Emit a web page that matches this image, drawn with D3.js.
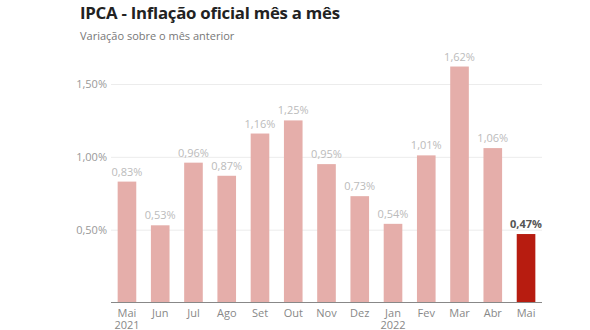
<!DOCTYPE html>
<html><head><meta charset="utf-8">
<script src="https://cdn.jsdelivr.net/npm/d3@7"></script>
<style>body{margin:0;background:#fff;}svg{display:block;font-family:"Open Sans",sans-serif;}</style>
</head><body><svg id="c" width="590" height="330"></svg>
<script>
const months = ["Mai","Jun","Jul","Ago","Set","Out","Nov","Dez","Jan","Fev","Mar","Abr","Mai"];
const years = ["2021","","","","","","","","2022","","","",""];
const values = [0.83,0.53,0.96,0.87,1.16,1.25,0.95,0.73,0.54,1.01,1.62,1.06,0.47];
const labels = ["0,83%","0,53%","0,96%","0,87%","1,16%","1,25%","0,95%","0,73%","0,54%","1,01%","1,62%","1,06%","0,47%"];
const yTicks = [0.5,1.0,1.5];
const yTickLabels = ["0,50%","1,00%","1,50%"];

const svg = d3.select("#c");
const x0 = 111, x1 = 542, yBase = 302.5, yTop = 84;
const x = d3.scaleBand().domain(d3.range(values.length)).range([x0,x1]).paddingInner(0.44).paddingOuter(0.2);
const y = d3.scaleLinear().domain([0,1.5]).range([yBase,yTop]);

svg.append("text").attr("x",80).attr("y",19).attr("font-size",16.8).attr("font-weight",700).attr("fill","#222")
  .attr("letter-spacing","-0.25").text("IPCA - Inflação oficial mês a mês");
svg.append("text").attr("x",80).attr("y",40).attr("font-size",11).attr("fill","#777")
  .text("Variação sobre o mês anterior");

const yAxis = d3.axisLeft(y).tickValues(yTicks).tickSize(-(x1-x0)).tickFormat((d,i)=>yTickLabels[i]);
const gy = svg.append("g").attr("transform",`translate(${x0},0)`).call(yAxis);
gy.select(".domain").remove();
gy.selectAll(".tick line").attr("stroke","#ececec");
gy.selectAll(".tick text").attr("x",-4).attr("font-size",11).attr("fill","#999").attr("font-family","Open Sans");

svg.append("g").selectAll("rect").data(values).join("rect")
  .attr("x",(d,i)=>x(i)).attr("width",x.bandwidth())
  .attr("y",d=>y(d)).attr("height",d=>yBase-y(d))
  .attr("fill",(d,i)=>i===values.length-1?"#b71c10":"#e5aeaa");

svg.append("g").selectAll("text").data(values).join("text")
  .attr("x",(d,i)=>x(i)+x.bandwidth()/2).attr("y",d=>y(d)-6)
  .attr("text-anchor","middle").attr("font-size",11)
  .attr("font-weight",(d,i)=>i===values.length-1?700:400)
  .attr("fill",(d,i)=>i===values.length-1?"#555":"#bbb")
  .text((d,i)=>labels[i]);

const xAxis = d3.axisBottom(x).tickSize(0).tickFormat(i=>months[i]);
const gx = svg.append("g").attr("transform",`translate(0,${yBase})`).call(xAxis);
gx.select(".domain").attr("stroke","#888").attr("d",`M${x0},0H${x1}`);
gx.selectAll(".tick text").attr("font-size",11).attr("fill","#888").attr("font-family","Open Sans").attr("y",6.5);
gx.selectAll(".tick").filter(i=>years[i]).append("text")
  .attr("y",26.5).attr("text-anchor","middle").attr("font-size",11).attr("fill","#888")
  .attr("font-family","Open Sans").text(i=>years[i]);
</script></body></html>
